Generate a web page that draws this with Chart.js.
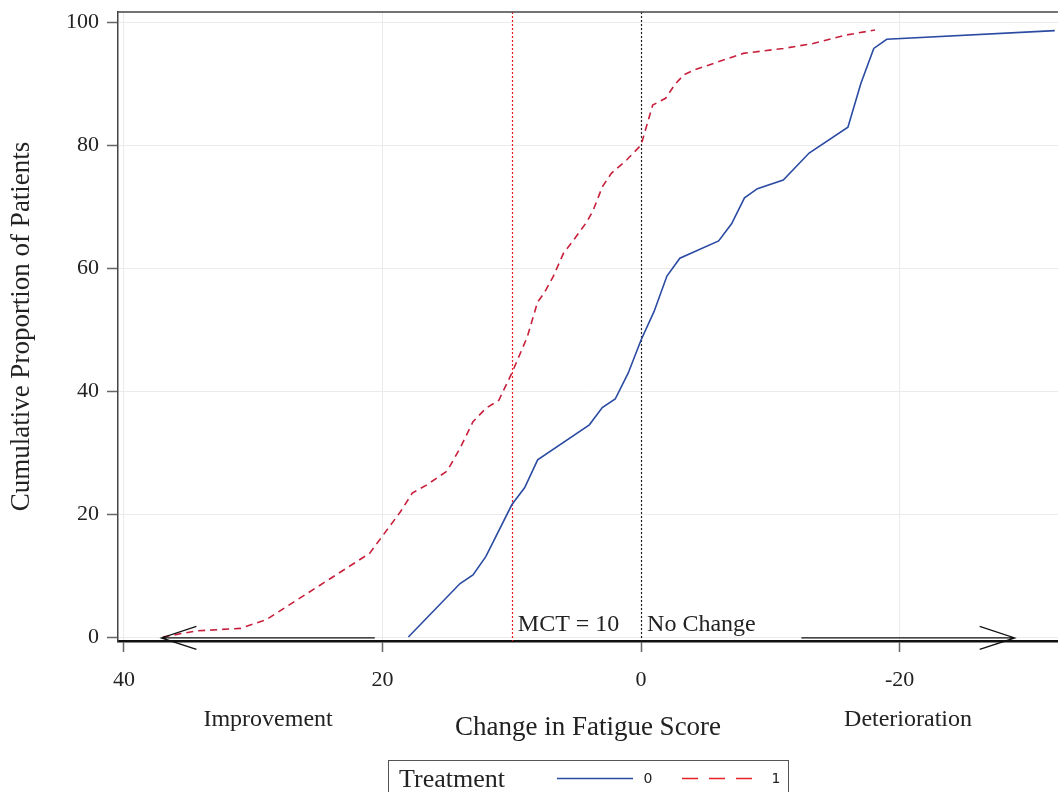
<!DOCTYPE html>
<html>
<head>
<meta charset="utf-8">
<title>Fatigue score change</title>
<script src="https://cdn.jsdelivr.net/npm/chart.js@4/dist/chart.umd.min.js"></script>
<style>
  html, body { margin: 0; padding: 0; background: #fff; }
  canvas { display: block; }
</style>
</head>
<body>
<canvas id="cdf-chart" width="1058" height="792"></canvas>
<script>
// x axis runs from improvement (left) to deterioration (right)
const changeTicks = [40, 20, 0, -20];
const propTicks = [0, 20, 40, 60, 80, 100];

// Treatment 0
const changeT0 = [18, 14, 13, 12, 10, 9, 8, 4, 3, 2, 1, 0, -1, -2, -3, -6, -7, -8, -9, -11, -13, -16, -17, -18, -19, -32];
const propT0 = [0, 8.7, 10.1, 13.1, 21.5, 24.3, 28.8, 34.5, 37.3, 38.7, 42.9, 48.3, 52.9, 58.7, 61.6, 64.4, 67.2, 71.4, 72.9, 74.3, 78.7, 82.9, 90.0, 95.7, 97.2, 98.6];

// Treatment 1
const changeT1 = [37, 34.4, 31, 29, 21, 18.6, 17.7, 16.6, 15, 14, 13, 12, 11, 10, 8.8, 8, 7.5, 6.8, 6, 5.2, 4.2, 3.7, 3, 2.3, 1.1, 0, -0.9, -1.9, -2.6, -3.3, -4.1, -7.9, -11, -13.3, -15.9, -18.1];
const propT1 = [0, 1.0, 1.4, 2.8, 13.6, 20.4, 23.4, 24.7, 27.0, 30.7, 35.0, 37.2, 38.5, 42.9, 48.8, 54.5, 55.9, 58.6, 62.4, 64.6, 67.5, 69.4, 73.2, 75.4, 77.6, 80.0, 86.5, 87.6, 89.8, 91.4, 92.2, 94.9, 95.7, 96.5, 97.9, 98.7];

// reference lines and direction arrows (in data units)
const refLines = [
    { value: 10, label: 'MCT = 10', color: '#ee1c1c' },
    { value: 0, label: 'No Change', color: '#222222' }
];
const arrows = [
    { from: 20.6, to: 37.1, label: 'Improvement' },
    { from: -12.4, to: -28.9, label: 'Deterioration' }
];
const arrowLevel = -0.15;

const serif = '"Liberation Serif", "Times New Roman", serif';
const textColor = '#222';

const toPoints = (xs, ys) => xs.map((x, i) => ({ x: x, y: ys[i] }));

const annotations = {
    id: 'annotations',
    beforeDatasetsDraw(chart) {
        const { ctx, chartArea, scales: { x } } = chart;
        ctx.save();
        refLines.forEach(line => {
            const px = Math.round(x.getPixelForValue(line.value)) + 0.5;
            ctx.strokeStyle = line.color;
            ctx.lineWidth = 1.2;
            ctx.setLineDash([2, 2]);
            ctx.beginPath();
            ctx.moveTo(px, chartArea.top);
            ctx.lineTo(px, chartArea.bottom);
            ctx.stroke();
        });
        ctx.restore();
    },
    afterDraw(chart) {
        const { ctx, chartArea, scales: { x, y } } = chart;
        ctx.save();

        // top frame
        ctx.strokeStyle = '#444';
        ctx.lineWidth = 1.5;
        ctx.beginPath();
        ctx.moveTo(chartArea.left, chartArea.top);
        ctx.lineTo(chartArea.right, chartArea.top);
        ctx.stroke();

        // reference line labels
        ctx.fillStyle = textColor;
        ctx.font = '24px ' + serif;
        ctx.textAlign = 'left';
        ctx.textBaseline = 'alphabetic';
        refLines.forEach(line => {
            ctx.fillText(line.label, x.getPixelForValue(line.value) + 6, chartArea.bottom - 10);
        });

        // arrows
        ctx.strokeStyle = '#111';
        ctx.lineWidth = 1.3;
        ctx.setLineDash([]);
        const ay = y.getPixelForValue(arrowLevel);
        arrows.forEach(a => {
            const x0 = x.getPixelForValue(a.from);
            const x1 = x.getPixelForValue(a.to);
            const dir = Math.sign(x1 - x0);
            ctx.beginPath();
            ctx.moveTo(x0, ay);
            ctx.lineTo(x1, ay);
            ctx.moveTo(x1 - dir * 35, ay - 11.5);
            ctx.lineTo(x1, ay);
            ctx.lineTo(x1 - dir * 35, ay + 11.5);
            ctx.stroke();
            ctx.textAlign = 'center';
            ctx.font = '24px ' + serif;
            ctx.fillText(a.label, (x0 + x1) / 2, 726);
        });

        // legend
        const sets = chart.data.datasets;
        const boxW = 400;
        const left = (chartArea.left + chartArea.right) / 2 - boxW / 2;
        const top = 760;
        ctx.strokeStyle = '#555';
        ctx.lineWidth = 1;
        ctx.strokeRect(Math.round(left) + 0.5, top + 0.5, boxW, 60);
        ctx.textAlign = 'left';
        ctx.font = '26px ' + serif;
        ctx.fillText('Treatment', left + 11, 787);
        const samples = [
            { x0: left + 169, x1: left + 245, lx: left + 260, color: sets[0].borderColor, dash: [] },
            { x0: left + 294, x1: left + 364, lx: left + 388, color: '#e8202a', dash: [16, 11] }
        ];
        ctx.font = '14px "DejaVu Sans", sans-serif';
        ctx.textAlign = 'center';
        ctx.textBaseline = 'middle';
        samples.forEach((s, i) => {
            ctx.strokeStyle = s.color;
            ctx.lineWidth = 1.5;
            ctx.setLineDash(s.dash);
            ctx.beginPath();
            ctx.moveTo(s.x0, 778.5);
            ctx.lineTo(s.x1, 778.5);
            ctx.stroke();
            ctx.fillStyle = textColor;
            ctx.fillText(sets[i].label, s.lx, 779);
        });
        ctx.restore();
    }
};

new Chart(document.getElementById('cdf-chart'), {
    type: 'line',
    data: {
        datasets: [{
            label: '0',
            data: toPoints(changeT0, propT0),
            borderColor: '#2b4ba3',
            borderWidth: 1.6,
            pointRadius: 0,
            tension: 0,
            fill: false
        }, {
            label: '1',
            data: toPoints(changeT1, propT1),
            borderColor: '#c8203c',
            borderWidth: 1.6,
            borderDash: [7, 5],
            pointRadius: 0,
            tension: 0,
            fill: false
        }]
    },
    options: {
        responsive: false,
        animation: false,
        devicePixelRatio: 1,
        layout: { padding: { top: 12, right: 0, bottom: 0, left: 0 } },
        plugins: {
            legend: { display: false },
            tooltip: { enabled: false }
        },
        scales: {
            x: {
                type: 'linear',
                reverse: true,
                min: -32.25,
                max: 40.46,
                afterFit: scale => {
                    scale.height = 151;
                    scale.paddingLeft = 0;
                    scale.paddingRight = 0;
                },
                afterBuildTicks: scale => { scale.ticks = changeTicks.map(v => ({ value: v })); },
                grid: { color: '#ebebeb', lineWidth: 1, tickLength: 11, tickColor: '#666', tickWidth: 1.5 },
                border: { color: '#111', width: 2.5 },
                ticks: {
                    padding: 15,
                    color: textColor,
                    font: { family: serif, size: 22 },
                    maxRotation: 0,
                    callback: v => String(v)
                },
                title: {
                    display: true,
                    text: 'Change in Fatigue Score',
                    color: textColor,
                    font: { family: serif, size: 27 },
                    padding: { top: 0, bottom: 48 }
                }
            },
            y: {
                type: 'linear',
                min: -0.65,
                max: 101.63,
                afterFit: scale => {
                    scale.width = 118;
                    scale.paddingTop = 0;
                    scale.paddingBottom = 0;
                },
                afterBuildTicks: scale => { scale.ticks = propTicks.map(v => ({ value: v })); },
                grid: { color: '#ebebeb', lineWidth: 1, tickLength: 11, tickColor: '#666', tickWidth: 1.5 },
                border: { color: '#444', width: 1.5 },
                ticks: {
                    padding: 8,
                    color: textColor,
                    font: { family: serif, size: 22 },
                    callback: v => String(v)
                },
                title: {
                    display: true,
                    text: 'Cumulative Proportion of Patients',
                    color: textColor,
                    font: { family: serif, size: 27 },
                    padding: { top: 6, bottom: 0 }
                }
            }
        }
    },
    plugins: [annotations]
});
</script>
</body>
</html>
